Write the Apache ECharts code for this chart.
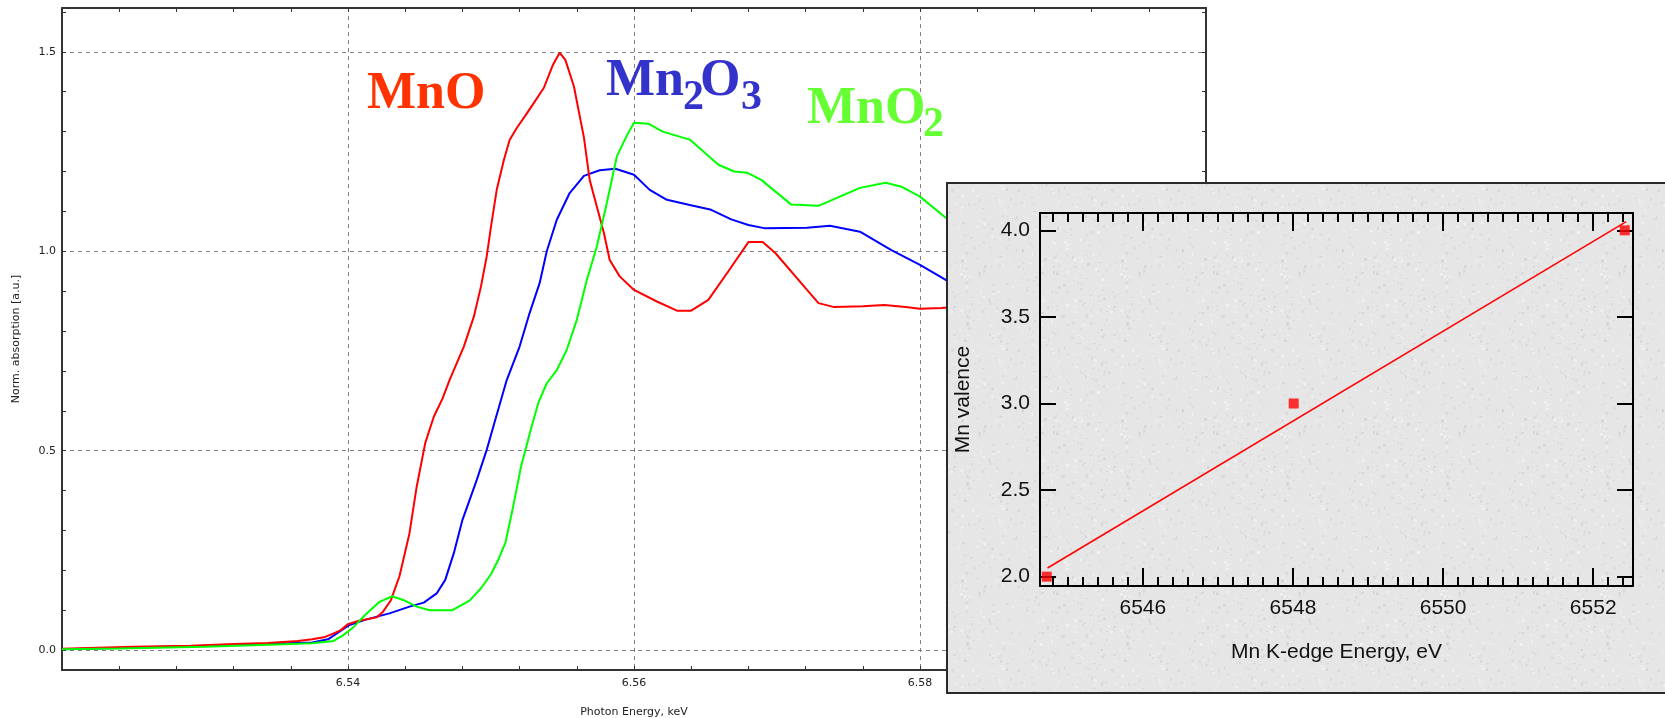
<!DOCTYPE html>
<html>
<head>
<meta charset="utf-8">
<title>Mn K-edge XANES</title>
<script src="https://cdn.jsdelivr.net/npm/echarts@6/dist/echarts.min.js"></script>
<style>
  html, body { margin: 0; padding: 0; background: #fff; overflow: hidden; }
  #main { position: absolute; left: 0; top: 0; width: 1665px; height: 718px; }
  #inset { position: absolute; left: 946px; top: 182px; width: 719px; height: 512px;
           box-sizing: border-box; border: 2px solid #2a2a2a; border-right: none; background-color: #e4e4e4; }
</style>
</head>
<body>
<div id="main"></div>
<div id="inset"></div>
<script>
// --- main plot: normalised absorption vs photon energy (keV) ---
var mnoE = [6.5200, 6.5250, 6.5290, 6.5320, 6.5344, 6.5365, 6.5375, 6.5384, 6.5390, 6.5395,
            6.5400, 6.5407, 6.5420, 6.5424, 6.5430, 6.5436, 6.5443, 6.5448, 6.5454, 6.5460,
            6.5466, 6.5471, 6.5481, 6.5488, 6.5493, 6.5497, 6.5500, 6.5504, 6.5509, 6.5513,
            6.5518, 6.5524, 6.5530, 6.5537, 6.5543, 6.5548, 6.5552, 6.5558, 6.5565, 6.5569,
            6.5574, 6.5579, 6.5583, 6.5590, 6.5600, 6.5616, 6.5630, 6.5640, 6.5652, 6.5666,
            6.5680, 6.5690, 6.5699, 6.5721, 6.5729, 6.5740, 6.5760, 6.5775, 6.5790, 6.5800,
            6.5815, 6.5830, 6.5850];
var mnoV = [0.003, 0.008, 0.011, 0.015, 0.018, 0.023, 0.027, 0.033, 0.042, 0.050,
            0.065, 0.073, 0.082, 0.094, 0.125, 0.185, 0.293, 0.409, 0.519, 0.585,
            0.630, 0.677, 0.761, 0.836, 0.912, 0.987, 1.062, 1.154, 1.229, 1.279,
            1.309, 1.340, 1.372, 1.410, 1.465, 1.498, 1.480, 1.413, 1.285, 1.179,
            1.112, 1.045, 0.978, 0.937, 0.903, 0.874, 0.851, 0.851, 0.878, 0.950,
            1.023, 1.023, 0.995, 0.903, 0.870, 0.860, 0.862, 0.865, 0.860, 0.856,
            0.858, 0.862, 0.860];

var mn2o3E = [6.5200, 6.5245, 6.5300, 6.5340, 6.5375, 6.5386, 6.5394, 6.5401, 6.5413, 6.5429,
              6.5443, 6.5453, 6.5462, 6.5468, 6.5474, 6.5480, 6.5490, 6.5497, 6.5502, 6.5511,
              6.5520, 6.5527, 6.5534, 6.5539, 6.5546, 6.5555, 6.5565, 6.5576, 6.5587, 6.5600,
              6.5611, 6.5623, 6.5639, 6.5654, 6.5668, 6.5680, 6.5691, 6.5721, 6.5737, 6.5758,
              6.5780, 6.5800, 6.5818, 6.5840];
var mn2o3V = [0.002, 0.006, 0.011, 0.015, 0.019, 0.027, 0.046, 0.063, 0.077, 0.092,
              0.109, 0.119, 0.142, 0.176, 0.243, 0.326, 0.426, 0.502, 0.565, 0.677,
              0.761, 0.845, 0.920, 1.000, 1.079, 1.146, 1.189, 1.203, 1.207, 1.192,
              1.154, 1.129, 1.116, 1.104, 1.080, 1.066, 1.058, 1.059, 1.064, 1.049,
              1.003, 0.966, 0.928, 0.890];

var mno2E = [6.5200, 6.5240, 6.5300, 6.5350, 6.5375, 6.5390, 6.5397, 6.5404, 6.5412, 6.5422,
             6.5431, 6.5439, 6.5448, 6.5457, 6.5473, 6.5485, 6.5493, 6.5500, 6.5505, 6.5510,
             6.5515, 6.5521, 6.5528, 6.5533, 6.5539, 6.5546, 6.5553, 6.5560, 6.5567, 6.5574,
             6.5581, 6.5588, 6.5595, 6.5600, 6.5610, 6.5620, 6.5639, 6.5659, 6.5670, 6.5679,
             6.5689, 6.5710, 6.5729, 6.5758, 6.5776, 6.5787, 6.5800, 6.5818, 6.5840];
var mno2V = [0.002, 0.004, 0.008, 0.014, 0.017, 0.023, 0.038, 0.058, 0.088, 0.121,
             0.135, 0.125, 0.109, 0.100, 0.100, 0.124, 0.155, 0.190, 0.226, 0.268,
             0.351, 0.460, 0.555, 0.619, 0.669, 0.702, 0.753, 0.828, 0.928, 1.012,
             1.121, 1.238, 1.290, 1.322, 1.320, 1.300, 1.280, 1.217, 1.200, 1.197,
             1.179, 1.117, 1.114, 1.159, 1.172, 1.162, 1.137, 1.084, 1.030];

var mainYLabels = [0.0, 0.5, 1.0, 1.5];
var mainYMinor = [0.0, 0.1, 0.2, 0.3, 0.4, 0.5, 0.6, 0.7, 0.8, 0.9, 1.0, 1.1, 1.2, 1.3, 1.4, 1.5, 1.6];

// --- inset: valence vs edge energy (eV) ---
var edgeE = [6544.72, 6548.01, 6552.42];
var valence = [2, 3, 4];
var fitE = [6544.73, 6552.44];
var fitV = [2.05, 4.05];

var insetXLabels = [6546, 6548, 6550, 6552];
var insetYLabels = [2.0, 2.5, 3.0, 3.5, 4.0];
var insetXMinor = [];
for (var k = 0; k <= 38; k++) insetXMinor.push(Math.round((6544.8 + k * 0.2) * 10) / 10);

function pairs(xs, ys) {
  return xs.map(function (x, i) { return [x, ys[i]]; });
}

var frame = '#333';
var dashGrid = { color: '#808080', width: 1, type: [4, 4] };
var smallFont = { fontFamily: 'DejaVu Sans', fontSize: 11, color: '#222' };

var main = echarts.init(document.getElementById('main'));
main.setOption({
  animation: false,
  backgroundColor: '#ffffff',
  grid: { left: 62, right: 459, top: 8, bottom: 48, containLabel: false, outerBoundsMode: 'none' },
  xAxis: [{
    type: 'value', position: 'bottom', min: 6.52, max: 6.60, interval: 0.02,
    name: 'Photon Energy, keV', nameLocation: 'middle', nameGap: 37, nameTextStyle: smallFont,
    axisLine: { show: true, onZero: false, lineStyle: { color: frame, width: 2 } },
    axisTick: { show: true, inside: true, length: 4, lineStyle: { color: frame, width: 1 } },
    minorTick: { show: true, splitNumber: 5, length: 4, lineStyle: { color: frame, width: 1 } },
    axisLabel: Object.assign({ margin: 8, showMinLabel: false, showMaxLabel: false,
      formatter: function (v) { return v.toFixed(2); } }, smallFont),
    splitLine: { show: true, showMinLine: false, showMaxLine: false, lineStyle: dashGrid }
  }, {
    type: 'value', position: 'top', min: 6.52, max: 6.60, interval: 0.02,
    axisLine: { show: true, onZero: false, lineStyle: { color: frame, width: 2 } },
    axisTick: { show: true, inside: true, length: 4, lineStyle: { color: frame, width: 1 } },
    minorTick: { show: true, splitNumber: 5, length: 4, lineStyle: { color: frame, width: 1 } },
    axisLabel: { show: false },
    splitLine: { show: false }
  }],
  yAxis: [{
    type: 'value', position: 'left', min: -0.05, max: 1.61,
    name: 'Norm. absorption [a.u.]', nameLocation: 'middle', nameRotate: 90, nameGap: 40,
    nameTextStyle: smallFont,
    axisLine: { show: true, onZero: false, lineStyle: { color: frame, width: 2 } },
    axisTick: { show: false, customValues: mainYLabels },
    axisLabel: Object.assign({ margin: 6, customValues: mainYLabels,
      formatter: function (v) { return v.toFixed(1); } }, smallFont),
    splitLine: { show: true, lineStyle: dashGrid }
  }, {
    type: 'value', position: 'left', min: -0.05, max: 1.61,
    axisLine: { show: false },
    axisTick: { show: true, inside: true, length: 4, customValues: mainYMinor, lineStyle: { color: frame, width: 1 } },
    axisLabel: { show: false },
    splitLine: { show: false }
  }, {
    type: 'value', position: 'right', min: -0.05, max: 1.61,
    axisLine: { show: true, onZero: false, lineStyle: { color: frame, width: 2 } },
    axisTick: { show: true, inside: true, length: 4, customValues: mainYMinor, lineStyle: { color: frame, width: 1 } },
    axisLabel: { show: false },
    splitLine: { show: false }
  }],
  series: [{
    name: 'Mn2O3', type: 'line', data: pairs(mn2o3E, mn2o3V), showSymbol: false,
    lineStyle: { color: '#0000ff', width: 2 }, itemStyle: { color: '#0000ff' }, z: 3
  }, {
    name: 'MnO', type: 'line', data: pairs(mnoE, mnoV), showSymbol: false,
    lineStyle: { color: '#ff0000', width: 2 }, itemStyle: { color: '#ff0000' }, z: 4
  }, {
    name: 'MnO2', type: 'line', data: pairs(mno2E, mno2V), showSymbol: false,
    lineStyle: { color: '#00ff00', width: 2 }, itemStyle: { color: '#00ff00' }, z: 5
  }],
  graphic: [
    { type: 'text', x: 367, y: 94.5, z: 100, style: { text: 'MnO', font: 'bold 52px "Liberation Serif"', fill: '#ff3300', verticalAlign: 'middle' } },
    { type: 'text', x: 606, y: 81.5, z: 100, style: { text: 'Mn', font: 'bold 52px "Liberation Serif"', fill: '#3333cc', verticalAlign: 'middle' } },
    { type: 'text', x: 683, y: 98.5, z: 100, style: { text: '2', font: 'bold 42px "Liberation Serif"', fill: '#3333cc', verticalAlign: 'middle' } },
    { type: 'text', x: 700, y: 81.5, z: 100, style: { text: 'O', font: 'bold 52px "Liberation Serif"', fill: '#3333cc', verticalAlign: 'middle' } },
    { type: 'text', x: 741, y: 98.5, z: 100, style: { text: '3', font: 'bold 42px "Liberation Serif"', fill: '#3333cc', verticalAlign: 'middle' } },
    { type: 'text', x: 807, y: 109.5, z: 100, style: { text: 'MnO', font: 'bold 52px "Liberation Serif"', fill: '#66ff33', verticalAlign: 'middle' } },
    { type: 'text', x: 923, y: 125.5, z: 100, style: { text: '2', font: 'bold 42px "Liberation Serif"', fill: '#66ff33', verticalAlign: 'middle' } }
  ]
});

// grey mottled paper look behind the inset (decoration only)
(function () {
  var c = document.createElement('canvas');
  c.width = 160; c.height = 160;
  var g = c.getContext('2d');
  g.fillStyle = '#e6e6e6';
  g.fillRect(0, 0, 160, 160);
  var s = 12345;
  function next() { s = (s * 1103515245 + 12345) % 2147483648; return s / 2147483648; }
  for (var i = 0; i < 900; i++) {
    var shade = Math.round(200 + next() * 50);
    g.fillStyle = 'rgba(' + shade + ',' + shade + ',' + shade + ',0.55)';
    g.fillRect(Math.floor(next() * 160), Math.floor(next() * 160), 1 + Math.floor(next() * 3), 1 + Math.floor(next() * 3));
  }
  document.getElementById('inset').style.backgroundImage = 'url(' + c.toDataURL() + ')';
})();

var ink = '#000';
var insetFont = { fontFamily: 'Liberation Sans', fontSize: 21, color: '#111' };
var xMin = 6544.63, xMax = 6552.53, yMin = 1.946, yMax = 4.1;

function insetX(pos, values, len, labels) {
  return {
    type: 'value', position: pos, min: xMin, max: xMax,
    axisLine: { show: !!labels || pos === 'top', onZero: false, lineStyle: { color: ink, width: 2 } },
    axisTick: { show: true, inside: true, length: len, customValues: values, lineStyle: { color: ink, width: 2 } },
    axisLabel: labels ? Object.assign({ margin: 12, customValues: values,
      formatter: function (v) { return String(Math.round(v)); } }, insetFont) : { show: false },
    splitLine: { show: false }
  };
}

var inset = echarts.init(document.getElementById('inset'));
var xBottom = insetX('bottom', insetXLabels, 18, true);
xBottom.name = 'Mn K-edge Energy, eV';
xBottom.nameLocation = 'middle';
xBottom.nameGap = 56;
xBottom.nameTextStyle = insetFont;

inset.setOption({
  animation: false,
  backgroundColor: 'transparent',
  grid: { left: 92, right: 32, top: 29, bottom: 106, containLabel: false, outerBoundsMode: 'none' },
  xAxis: [xBottom, insetX('bottom', insetXMinor, 9, false),
          insetX('top', insetXLabels, 18, false), insetX('top', insetXMinor, 9, false)],
  yAxis: [{
    type: 'value', position: 'left', min: yMin, max: yMax,
    name: 'Mn valence', nameLocation: 'middle', nameRotate: 90, nameGap: 66, nameTextStyle: insetFont,
    axisLine: { show: true, onZero: false, lineStyle: { color: ink, width: 2 } },
    axisTick: { show: true, inside: true, length: 16, customValues: insetYLabels, lineStyle: { color: ink, width: 2 } },
    axisLabel: Object.assign({ margin: 10, customValues: insetYLabels,
      formatter: function (v) { return v.toFixed(1); } }, insetFont),
    splitLine: { show: false }
  }, {
    type: 'value', position: 'right', min: yMin, max: yMax,
    axisLine: { show: true, onZero: false, lineStyle: { color: ink, width: 2 } },
    axisTick: { show: true, inside: true, length: 16, customValues: insetYLabels, lineStyle: { color: ink, width: 2 } },
    axisLabel: { show: false },
    splitLine: { show: false }
  }],
  series: [{
    type: 'line', data: pairs(fitE, fitV), showSymbol: false,
    lineStyle: { color: '#ff0000', width: 1.5 }, z: 3
  }, {
    type: 'scatter', data: pairs(edgeE, valence), symbol: 'rect', symbolSize: 10,
    itemStyle: { color: '#ff0000' }, z: 4
  }]
});
</script>
</body>
</html>
